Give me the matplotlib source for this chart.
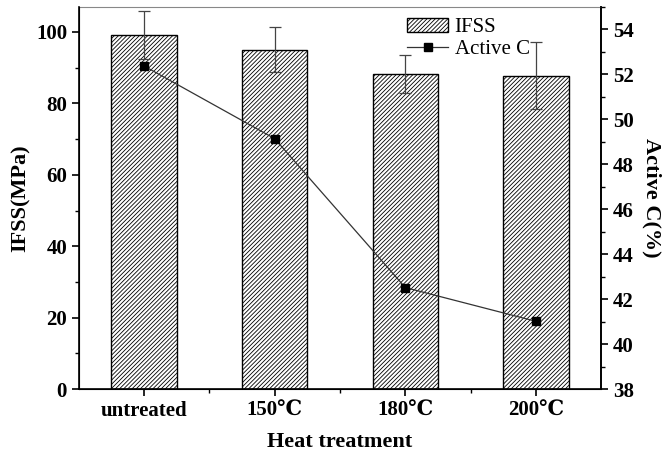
import matplotlib.pyplot as plt
from matplotlib.ticker import MultipleLocator, FixedLocator

plt.rcParams['font.family'] = ['Liberation Serif', 'DejaVu Serif', 'Noto Sans CJK SC']
plt.rcParams['hatch.linewidth'] = 0.6

# data
categories = ['untreated', '150\u2103', '180\u2103', '200\u2103']
ifss = [99.2, 95.0, 88.2, 87.7]
ifss_err = [6.7, 6.3, 5.2, 9.4]
active_c = [52.37, 49.14, 42.52, 41.02]

x = [1, 2, 3, 4]

fig, ax1 = plt.subplots(figsize=(6.68, 4.59), dpi=100)
fig.subplots_adjust(left=0.118, right=0.9, top=0.985, bottom=0.152)

bars = ax1.bar(x, ifss, width=0.5, color='white', edgecolor='black',
               hatch='////////', linewidth=1.0, label='IFSS', zorder=2)
ax1.errorbar(x, ifss, yerr=ifss_err, fmt='none', ecolor='#444444',
             elinewidth=0.9, capsize=4, capthick=0.9, zorder=3)

ax1.set_xlim(0.5, 4.5)
ax1.set_ylim(0, 107)
ax1.set_xticks(x)
ax1.set_xticklabels(categories, fontsize=15, fontweight='bold')
ax1.xaxis.set_minor_locator(FixedLocator([1.5, 2.5, 3.5]))
ax1.yaxis.set_major_locator(MultipleLocator(20))
ax1.yaxis.set_minor_locator(MultipleLocator(10))
for lab in ax1.get_yticklabels():
    lab.set_fontsize(15)
    lab.set_fontweight('bold')
ax1.tick_params(which='major', direction='out', length=5, width=1.2)
ax1.tick_params(which='minor', direction='out', length=3, width=1.0)
ax1.spines['top'].set_color('#888888')
for s in ['left', 'bottom', 'right']:
    ax1.spines[s].set_linewidth(1.2)

ax1.set_ylabel('IFSS(MPa)', fontsize=16, fontweight='bold', labelpad=4)
ax1.set_xlabel('Heat treatment', fontsize=16, fontweight='bold', labelpad=8)

ax2 = ax1.twinx()
ln = ax2.plot(x, active_c, color='#333333', linewidth=0.9, marker='s',
              markersize=5.5, markerfacecolor='black', markeredgecolor='black',
              label='Active C')
ax2.set_ylim(38, 55)
ax2.yaxis.set_major_locator(MultipleLocator(2))
ax2.yaxis.set_minor_locator(MultipleLocator(1))
for lab in ax2.get_yticklabels():
    lab.set_fontsize(15)
    lab.set_fontweight('bold')
ax2.tick_params(which='major', direction='out', length=5, width=1.2)
ax2.tick_params(which='minor', direction='out', length=3, width=1.0)
ax2.spines['top'].set_visible(False)
ax2.spines['right'].set_linewidth(1.2)
ax2.set_ylabel('Active C(%)', fontsize=16, fontweight='bold', rotation=270,
               labelpad=20)

ax1.legend([bars, ln[0]], ['IFSS', 'Active C'], loc='upper left',
           bbox_to_anchor=(0.6, 1.01), frameon=False, fontsize=15,
           handlelength=2.0, handletextpad=0.3, labelspacing=0.1,
           borderpad=0.2)

fig.savefig('out.png', dpi=100)
